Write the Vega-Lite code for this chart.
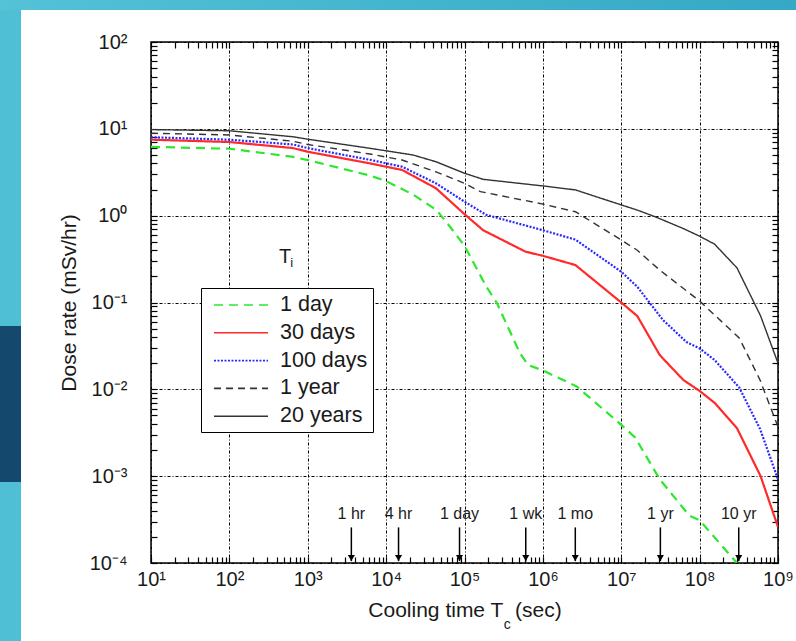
{
  "$schema": "https://vega.github.io/schema/vega-lite/v6.json",
  "width": 627,
  "height": 521,
  "autosize": {"type": "none"},
  "padding": {"left": 151, "top": 42, "right": 18, "bottom": 78},
  "background": "white",
  "datasets": {
    "curves": [
      {"series": "1 day", "time": 10, "dose": 6.2},
      {"series": "1 day", "time": 100, "dose": 5.9},
      {"series": "1 day", "time": 650, "dose": 4.75},
      {"series": "1 day", "time": 1000, "dose": 4.37},
      {"series": "1 day", "time": 6200, "dose": 2.9},
      {"series": "1 day", "time": 10000, "dose": 2.5},
      {"series": "1 day", "time": 22000, "dose": 1.75},
      {"series": "1 day", "time": 44000, "dose": 1.16},
      {"series": "1 day", "time": 65000, "dose": 0.75},
      {"series": "1 day", "time": 100000, "dose": 0.45},
      {"series": "1 day", "time": 190000, "dose": 0.152},
      {"series": "1 day", "time": 260000, "dose": 0.098},
      {"series": "1 day", "time": 510000, "dose": 0.026},
      {"series": "1 day", "time": 650000, "dose": 0.019},
      {"series": "1 day", "time": 1000000, "dose": 0.0165},
      {"series": "1 day", "time": 2700000, "dose": 0.0108},
      {"series": "1 day", "time": 10000000, "dose": 0.0039},
      {"series": "1 day", "time": 15000000, "dose": 0.0028},
      {"series": "1 day", "time": 31000000, "dose": 0.00092},
      {"series": "1 day", "time": 74000000, "dose": 0.00035},
      {"series": "1 day", "time": 100000000, "dose": 0.00031},
      {"series": "1 day", "time": 300000000, "dose": 0.0001},
      {"series": "30 days", "time": 10, "dose": 7.5},
      {"series": "30 days", "time": 100, "dose": 7.05},
      {"series": "30 days", "time": 650, "dose": 6.0},
      {"series": "30 days", "time": 1000, "dose": 5.45},
      {"series": "30 days", "time": 6200, "dose": 4.0},
      {"series": "30 days", "time": 16000, "dose": 3.36},
      {"series": "30 days", "time": 43200, "dose": 2.07},
      {"series": "30 days", "time": 100000, "dose": 1.04},
      {"series": "30 days", "time": 173000, "dose": 0.68},
      {"series": "30 days", "time": 600000, "dose": 0.385},
      {"series": "30 days", "time": 1000000, "dose": 0.345},
      {"series": "30 days", "time": 2600000, "dose": 0.27},
      {"series": "30 days", "time": 10000000, "dose": 0.1},
      {"series": "30 days", "time": 16000000, "dose": 0.07},
      {"series": "30 days", "time": 31000000, "dose": 0.0248},
      {"series": "30 days", "time": 62000000, "dose": 0.0128},
      {"series": "30 days", "time": 100000000, "dose": 0.0096},
      {"series": "30 days", "time": 155000000, "dose": 0.007},
      {"series": "30 days", "time": 300000000, "dose": 0.00356},
      {"series": "30 days", "time": 600000000, "dose": 0.001},
      {"series": "30 days", "time": 1000000000, "dose": 0.00026},
      {"series": "100 days", "time": 10, "dose": 8.0},
      {"series": "100 days", "time": 100, "dose": 7.5},
      {"series": "100 days", "time": 650, "dose": 6.6},
      {"series": "100 days", "time": 1000, "dose": 6.0},
      {"series": "100 days", "time": 6200, "dose": 4.4},
      {"series": "100 days", "time": 16000, "dose": 3.66},
      {"series": "100 days", "time": 43200, "dose": 2.36},
      {"series": "100 days", "time": 100000, "dose": 1.45},
      {"series": "100 days", "time": 190000, "dose": 1.02},
      {"series": "100 days", "time": 1000000, "dose": 0.68},
      {"series": "100 days", "time": 2600000, "dose": 0.53},
      {"series": "100 days", "time": 10000000, "dose": 0.226},
      {"series": "100 days", "time": 16000000, "dose": 0.152},
      {"series": "100 days", "time": 34000000, "dose": 0.063},
      {"series": "100 days", "time": 68000000, "dose": 0.035},
      {"series": "100 days", "time": 100000000, "dose": 0.0296},
      {"series": "100 days", "time": 155000000, "dose": 0.0218},
      {"series": "100 days", "time": 320000000, "dose": 0.0105},
      {"series": "100 days", "time": 590000000, "dose": 0.0035},
      {"series": "100 days", "time": 1000000000, "dose": 0.00092},
      {"series": "1 year", "time": 10, "dose": 8.9},
      {"series": "1 year", "time": 100, "dose": 8.5},
      {"series": "1 year", "time": 650, "dose": 7.2},
      {"series": "1 year", "time": 1000, "dose": 6.6},
      {"series": "1 year", "time": 6200, "dose": 5.13},
      {"series": "1 year", "time": 16000, "dose": 4.37},
      {"series": "1 year", "time": 43200, "dose": 3.2},
      {"series": "1 year", "time": 100000, "dose": 2.36},
      {"series": "1 year", "time": 160000, "dose": 1.89},
      {"series": "1 year", "time": 1000000, "dose": 1.36},
      {"series": "1 year", "time": 2600000, "dose": 1.11},
      {"series": "1 year", "time": 10000000, "dose": 0.525},
      {"series": "1 year", "time": 16000000, "dose": 0.4},
      {"series": "1 year", "time": 31000000, "dose": 0.236},
      {"series": "1 year", "time": 100000000, "dose": 0.104},
      {"series": "1 year", "time": 320000000, "dose": 0.039},
      {"series": "1 year", "time": 590000000, "dose": 0.0128},
      {"series": "1 year", "time": 1000000000, "dose": 0.0037},
      {"series": "20 years", "time": 10, "dose": 9.8},
      {"series": "20 years", "time": 100, "dose": 9.5},
      {"series": "20 years", "time": 650, "dose": 8.1},
      {"series": "20 years", "time": 1000, "dose": 7.6},
      {"series": "20 years", "time": 6200, "dose": 5.97},
      {"series": "20 years", "time": 22000, "dose": 5.0},
      {"series": "20 years", "time": 43200, "dose": 4.18},
      {"series": "20 years", "time": 100000, "dose": 3.08},
      {"series": "20 years", "time": 173000, "dose": 2.62},
      {"series": "20 years", "time": 1000000, "dose": 2.2},
      {"series": "20 years", "time": 2600000, "dose": 1.98},
      {"series": "20 years", "time": 10000000, "dose": 1.33},
      {"series": "20 years", "time": 16000000, "dose": 1.16},
      {"series": "20 years", "time": 28000000, "dose": 0.96},
      {"series": "20 years", "time": 62000000, "dose": 0.71},
      {"series": "20 years", "time": 100000000, "dose": 0.58},
      {"series": "20 years", "time": 155000000, "dose": 0.47},
      {"series": "20 years", "time": 300000000, "dose": 0.25},
      {"series": "20 years", "time": 600000000, "dose": 0.07},
      {"series": "20 years", "time": 1000000000, "dose": 0.02}
    ],
    "arrows": [
      {"label": "1 hr", "time": 3600},
      {"label": "4 hr", "time": 14400},
      {"label": "1 day", "time": 86400},
      {"label": "1 wk", "time": 604800},
      {"label": "1 mo", "time": 2592000},
      {"label": "1 yr", "time": 31557600},
      {"label": "10 yr", "time": 315576000}
    ]
  },
  "layer": [
    {
      "data": {"values": [{}]},
      "mark": {"type": "rect", "clip": false, "color": {"gradient": "linear", "x1": 0, "x2": 1, "y1": 0, "y2": 0, "stops": [{"offset": 0, "color": "#55c3d8"}, {"offset": 1, "color": "#33a7c4"}]}},
      "encoding": {
        "x": {"datum": 0.05, "type": "quantitative", "scale": {"type": "log", "domain": [10, 1000000000]}, "axis": null},
        "x2": {"datum": 5000000000},
        "y": {"datum": 1000, "type": "quantitative", "scale": {"type": "log", "domain": [0.0001, 100]}, "axis": null},
        "y2": {"datum": 233.68}
      }
    },
    {
      "data": {"values": [{}]},
      "mark": {"type": "rect", "clip": false, "color": "#4fbfd5"},
      "encoding": {
        "x": {"datum": 0.05, "type": "quantitative", "scale": {"type": "log", "domain": [10, 1000000000]}, "axis": null},
        "x2": {"datum": 0.2195},
        "y": {"datum": 233.68, "type": "quantitative", "scale": {"type": "log", "domain": [0.0001, 100]}, "axis": null},
        "y2": {"datum": 0.000001}
      }
    },
    {
      "data": {"values": [{}]},
      "mark": {"type": "rect", "clip": false, "color": "#14486c"},
      "encoding": {
        "x": {"datum": 0.05, "type": "quantitative", "scale": {"type": "log", "domain": [10, 1000000000]}, "axis": null},
        "x2": {"datum": 0.2195},
        "y": {"datum": 0.053626, "type": "quantitative", "scale": {"type": "log", "domain": [0.0001, 100]}, "axis": null},
        "y2": {"datum": 0.00085652}
      }
    },
    {
      "data": {"name": "curves"},
      "transform": [{"filter": "datum.series == '1 day' || datum.series == '30 days' || datum.series == '100 days'"}],
      "mark": {"type": "line", "strokeWidth": 2.2, "clip": true},
      "encoding": {
        "x": {
          "field": "time", "type": "quantitative",
          "scale": {"type": "log", "domain": [10, 1000000000]},
          "axis": {
            "orient": "bottom",
            "offset": -6,
            "domain": false,
            "ticks": true,
            "tickOpacity": 1,
            "values": [10,20,30,40,50,60,70,80,90,100,200,300,400,500,600,700,800,900,1000,2000,3000,4000,5000,6000,7000,8000,9000,10000,20000,30000,40000,50000,60000,70000,80000,90000,100000,200000,300000,400000,500000,600000,700000,800000,900000,1000000,2000000,3000000,4000000,5000000,6000000,7000000,8000000,9000000,10000000,20000000,30000000,40000000,50000000,60000000,70000000,80000000,90000000,100000000,200000000,300000000,400000000,500000000,600000000,700000000,800000000,900000000,1000000000],
            "labelExpr": "abs(log(datum.value)/LN10 - round(log(datum.value)/LN10)) < 0.001 ? '10' + (round(log(datum.value)/LN10) < 0 ? '⁻' : '') + substring('⁰¹²³⁴⁵⁶⁷⁸⁹', abs(round(log(datum.value)/LN10)), abs(round(log(datum.value)/LN10)) + 1) : ''",
            "labelOverlap": false,
            "labelFlush": false,
            "labelFontSize": 20,
            "labelPadding": 6,
            "tickSize": 6,
            "grid": true,
            "gridColor": "black",
            "gridWidth": 1,
            "gridDash": [3, 2, 1, 2],
            "gridOpacity": {"condition": {"test": "abs(log(datum.value)/LN10 - round(log(datum.value)/LN10)) < 0.001", "value": 1}, "value": 0},
            "title": "Cooling time T\u00a0\u00a0(sec)",
            "titleFontSize": 21,
            "titlePadding": 10
          }
        },
        "y": {
          "field": "dose", "type": "quantitative",
          "scale": {"type": "log", "domain": [0.0001, 100]},
          "axis": {
            "orient": "left",
            "offset": -6,
            "domain": false,
            "ticks": true,
            "tickOpacity": 1,
            "values": [0.0001,0.0002,0.0003,0.0004,0.0005,0.0006,0.0007,0.0008,0.0009,0.001,0.002,0.003,0.004,0.005,0.006,0.007,0.008,0.009,0.01,0.02,0.03,0.04,0.05,0.06,0.07,0.08,0.09,0.1,0.2,0.3,0.4,0.5,0.6,0.7,0.8,0.9,1,2,3,4,5,6,7,8,9,10,20,30,40,50,60,70,80,90,100],
            "labelExpr": "abs(log(datum.value)/LN10 - round(log(datum.value)/LN10)) < 0.001 ? '10' + (round(log(datum.value)/LN10) < 0 ? '⁻' : '') + substring('⁰¹²³⁴⁵⁶⁷⁸⁹', abs(round(log(datum.value)/LN10)), abs(round(log(datum.value)/LN10)) + 1) : ''",
            "labelOverlap": false,
            "labelFlush": false,
            "labelFontSize": 20,
            "labelPadding": 24,
            "tickSize": 6,
            "grid": true,
            "gridColor": "black",
            "gridWidth": 1,
            "gridDash": [3, 2, 1, 2],
            "gridOpacity": {"condition": {"test": "abs(log(datum.value)/LN10 - round(log(datum.value)/LN10)) < 0.001", "value": 1}, "value": 0},
            "title": "Dose rate (mSv/hr)",
            "titleFontSize": 21,
            "titlePadding": 10
          }
        },
        "color": {
          "field": "series", "type": "nominal",
          "scale": {"domain": ["1 day", "30 days", "100 days", "1 year", "20 years"], "range": ["#2fe62f", "#ff2a2a", "#2a2aff", "#333333", "#333333"]},
          "legend": {"orient": "none", "legendX": 50, "legendY": 246, "title": null, "strokeColor": "black", "fillColor": "white", "padding": 5, "symbolType": "M-2.5,0H2.5", "symbolSize": 467, "symbolStrokeWidth": 1.6, "symbolOffset": 23, "labelFontSize": 21.5, "labelOffset": 27, "rowPadding": 4.8, "labelColor": "#1a1a1a"}
        },
        "strokeDash": {
          "field": "series", "type": "nominal",
          "scale": {"domain": ["1 day", "30 days", "100 days", "1 year", "20 years"], "range": [[9, 6], [1, 0], [2, 1.5], [7, 5], [1, 0]]},
          "legend": {"orient": "none", "legendX": 50, "legendY": 246, "title": null, "strokeColor": "black", "fillColor": "white", "padding": 5, "symbolType": "M-2.5,0H2.5", "symbolSize": 467, "symbolStrokeWidth": 1.6, "symbolOffset": 23, "labelFontSize": 21.5, "labelOffset": 27, "rowPadding": 4.8, "labelColor": "#1a1a1a"}
        }
      }
    },
    {
      "data": {"name": "curves"},
      "transform": [{"filter": "datum.series == '1 year' || datum.series == '20 years'"}],
      "mark": {"type": "line", "strokeWidth": 1.4, "clip": true},
      "encoding": {
        "x": {"field": "time", "type": "quantitative", "scale": {"type": "log", "domain": [10, 1000000000]}, "axis": null},
        "y": {"field": "dose", "type": "quantitative", "scale": {"type": "log", "domain": [0.0001, 100]}, "axis": null},
        "color": {
          "field": "series", "type": "nominal",
          "scale": {"domain": ["1 day", "30 days", "100 days", "1 year", "20 years"], "range": ["#2fe62f", "#ff2a2a", "#2a2aff", "#333333", "#333333"]},
          "legend": {"orient": "none", "legendX": 50, "legendY": 246, "title": null, "strokeColor": "black", "fillColor": "white", "padding": 5, "symbolType": "M-2.5,0H2.5", "symbolSize": 467, "symbolStrokeWidth": 1.6, "symbolOffset": 23, "labelFontSize": 21.5, "labelOffset": 27, "rowPadding": 4.8, "labelColor": "#1a1a1a"}
        },
        "strokeDash": {
          "field": "series", "type": "nominal",
          "scale": {"domain": ["1 day", "30 days", "100 days", "1 year", "20 years"], "range": [[9, 6], [1, 0], [2, 1.5], [7, 5], [1, 0]]},
          "legend": {"orient": "none", "legendX": 50, "legendY": 246, "title": null, "strokeColor": "black", "fillColor": "white", "padding": 5, "symbolType": "M-2.5,0H2.5", "symbolSize": 467, "symbolStrokeWidth": 1.6, "symbolOffset": 23, "labelFontSize": 21.5, "labelOffset": 27, "rowPadding": 4.8, "labelColor": "#1a1a1a"}
        }
      }
    },
    {
      "data": {"name": "arrows"},
      "mark": {"type": "rule", "color": "black", "strokeWidth": 1.5},
      "encoding": {
        "x": {"field": "time", "type": "quantitative", "scale": {"type": "log", "domain": [10, 1000000000]}, "axis": null},
        "y": {"datum": 0.000257, "type": "quantitative", "scale": {"type": "log", "domain": [0.0001, 100]}, "axis": null},
        "y2": {"datum": 0.000105}
      }
    },
    {
      "data": {"name": "arrows"},
      "mark": {"type": "point", "shape": "triangle-down", "filled": true, "color": "black", "size": 50, "opacity": 1},
      "encoding": {
        "x": {"field": "time", "type": "quantitative", "scale": {"type": "log", "domain": [10, 1000000000]}, "axis": null},
        "y": {"datum": 0.000114, "type": "quantitative", "scale": {"type": "log", "domain": [0.0001, 100]}, "axis": null}
      }
    },
    {
      "data": {"name": "arrows"},
      "mark": {"type": "text", "fontSize": 16, "color": "#1a1a1a", "baseline": "middle", "align": "center"},
      "encoding": {
        "x": {"field": "time", "type": "quantitative", "scale": {"type": "log", "domain": [10, 1000000000]}, "axis": null},
        "y": {"datum": 0.000366, "type": "quantitative", "scale": {"type": "log", "domain": [0.0001, 100]}, "axis": null},
        "text": {"field": "label"}
      }
    },
    {
      "data": {"values": [{}]},
      "mark": {"type": "text", "text": "T", "fontSize": 20, "color": "#1a1a1a", "baseline": "middle", "align": "center"},
      "encoding": {
        "x": {"datum": 513, "type": "quantitative", "scale": {"type": "log", "domain": [10, 1000000000]}, "axis": null},
        "y": {"datum": 0.336, "type": "quantitative", "scale": {"type": "log", "domain": [0.0001, 100]}, "axis": null}
      }
    },
    {
      "data": {"values": [{}]},
      "mark": {"type": "text", "text": "i", "fontSize": 13, "color": "#1a1a1a", "baseline": "middle", "align": "center"},
      "encoding": {
        "x": {"datum": 624, "type": "quantitative", "scale": {"type": "log", "domain": [10, 1000000000]}, "axis": null},
        "y": {"datum": 0.285, "type": "quantitative", "scale": {"type": "log", "domain": [0.0001, 100]}, "axis": null}
      }
    },
    {
      "data": {"values": [{}]},
      "mark": {"type": "text", "text": "c", "fontSize": 14, "color": "#1a1a1a", "baseline": "middle", "align": "center", "dy": 62, "clip": false},
      "encoding": {
        "x": {"datum": 352000, "type": "quantitative", "scale": {"type": "log", "domain": [10, 1000000000]}, "axis": null},
        "y": {"datum": 0.0001, "type": "quantitative", "scale": {"type": "log", "domain": [0.0001, 100]}, "axis": null}
      }
    },
    {
      "data": {"values": [{}]},
      "mark": {"type": "point", "opacity": 0},
      "encoding": {
        "x": {
          "datum": 1000, "type": "quantitative", "scale": {"type": "log", "domain": [10, 1000000000]},
          "axis": {"orient": "top", "offset": -6, "domain": false, "ticks": true, "tickOpacity": 1, "values": [10,20,30,40,50,60,70,80,90,100,200,300,400,500,600,700,800,900,1000,2000,3000,4000,5000,6000,7000,8000,9000,10000,20000,30000,40000,50000,60000,70000,80000,90000,100000,200000,300000,400000,500000,600000,700000,800000,900000,1000000,2000000,3000000,4000000,5000000,6000000,7000000,8000000,9000000,10000000,20000000,30000000,40000000,50000000,60000000,70000000,80000000,90000000,100000000,200000000,300000000,400000000,500000000,600000000,700000000,800000000,900000000,1000000000], "labels": false, "grid": false, "tickSize": 6, "title": null}
        },
        "y": {
          "datum": 1, "type": "quantitative", "scale": {"type": "log", "domain": [0.0001, 100]},
          "axis": {"orient": "right", "offset": -6, "domain": false, "ticks": true, "tickOpacity": 1, "values": [0.0001,0.0002,0.0003,0.0004,0.0005,0.0006,0.0007,0.0008,0.0009,0.001,0.002,0.003,0.004,0.005,0.006,0.007,0.008,0.009,0.01,0.02,0.03,0.04,0.05,0.06,0.07,0.08,0.09,0.1,0.2,0.3,0.4,0.5,0.6,0.7,0.8,0.9,1,2,3,4,5,6,7,8,9,10,20,30,40,50,60,70,80,90,100], "labels": false, "grid": false, "tickSize": 6, "title": null}
        }
      }
    }
  ],
  "resolve": {"axis": {"x": "independent", "y": "independent"}},
  "config": {
    "font": "Liberation Sans",
    "view": {"stroke": "black", "strokeWidth": 1.5},
    "axis": {
      "labelFont": "Liberation Sans",
      "titleFont": "Liberation Sans",
      "labelColor": "#1a1a1a",
      "titleColor": "#1a1a1a",
      "titleFontWeight": "normal",
      "domainColor": "black",
      "domainWidth": 1.5,
      "tickColor": "black",
      "tickWidth": 1.2
    },
    "legend": {"labelFont": "Liberation Sans"}
  }
}
